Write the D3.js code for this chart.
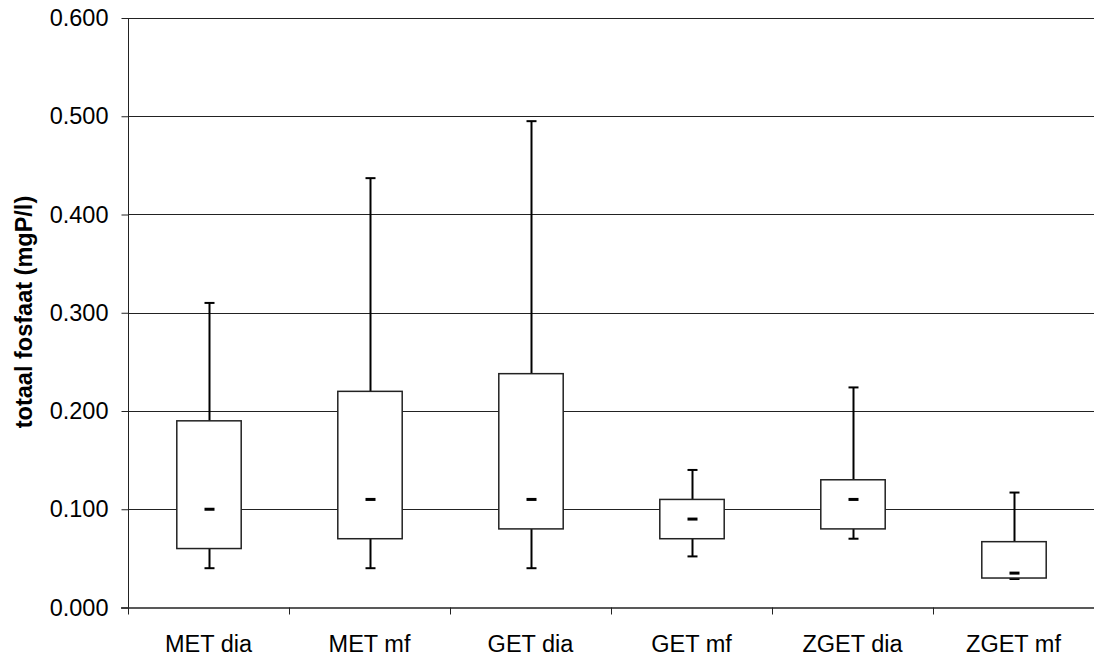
<!DOCTYPE html>
<html>
<head>
<meta charset="utf-8">
<script src="https://cdn.jsdelivr.net/npm/d3@7/dist/d3.min.js"></script>
<style>
  body { margin: 0; background: #fff; }
  text { font-family: "Liberation Sans", Arial, sans-serif; }
</style>
</head>
<body>
<svg id="chart" width="1094" height="659"></svg>
<script>
// categories and box values
var categories = ["MET dia", "MET mf", "GET dia", "GET mf", "ZGET dia", "ZGET mf"];
var whiskerMax = [0.310, 0.437, 0.495, 0.140, 0.224, 0.117];
var boxTop     = [0.190, 0.220, 0.238, 0.110, 0.130, 0.067];
var median     = [0.100, 0.110, 0.110, 0.090, 0.110, 0.035];
var boxBottom  = [0.060, 0.070, 0.080, 0.070, 0.080, 0.030];
var whiskerMin = [0.040, 0.040, 0.040, 0.052, 0.070, 0.029];
var yTicks = [0, 0.1, 0.2, 0.3, 0.4, 0.5, 0.6];
var yTitle = "totaal fosfaat (mgP/l)";

var svg = d3.select("#chart");
var plotLeft = 128, plotRight = 1094, plotTop = 18, plotBottom = 607.5;
var fontSize = 23.5;

var x = d3.scaleBand().domain(categories).range([plotLeft, plotRight]).paddingInner(0).paddingOuter(0);
var y = d3.scaleLinear().domain([0, 0.6]).range([plotBottom, plotTop]);

// gridlines
svg.append("g").selectAll("line").data(yTicks.slice(1)).enter().append("line")
  .attr("x1", plotLeft).attr("x2", plotRight)
  .attr("y1", function(d) { return Math.round(y(d)) + 0.5; })
  .attr("y2", function(d) { return Math.round(y(d)) + 0.5; })
  .attr("stroke", "#222").attr("stroke-width", 1);

// y axis
var yAxis = svg.append("g").attr("transform", "translate(" + (plotLeft + 0.5) + ",0)")
  .call(d3.axisLeft(y).tickValues(yTicks).tickFormat(d3.format(".3f")).tickSize(7).tickPadding(13));
yAxis.select(".domain").attr("stroke", "#222").attr("d", "M0," + plotTop + "V" + plotBottom);
yAxis.selectAll(".tick line").attr("stroke", "#222");
yAxis.selectAll("text").attr("font-size", fontSize).attr("fill", "#000")
  .style("font-family", "'Liberation Sans', Arial, sans-serif");

// x axis
var xAxis = svg.append("g").attr("transform", "translate(0," + (plotBottom + 0.5) + ")")
  .call(d3.axisBottom(x).tickSize(0).tickPadding(27));
xAxis.select(".domain").attr("stroke", "#222").attr("stroke-width", 1.5).attr("d", "M" + (plotLeft - 7) + ",0H" + plotRight);
xAxis.selectAll("text").attr("font-size", fontSize).attr("fill", "#000")
  .style("font-family", "'Liberation Sans', Arial, sans-serif");
// category separators
svg.append("g").selectAll("line").data(categories).enter().append("line")
  .attr("x1", function(d) { return Math.round(x(d)) + 0.5; })
  .attr("x2", function(d) { return Math.round(x(d)) + 0.5; })
  .attr("y1", plotBottom).attr("y2", plotBottom + 7)
  .attr("stroke", "#222");

// y title
svg.append("text")
  .attr("transform", "translate(32,312) rotate(-90)")
  .attr("text-anchor", "middle")
  .attr("font-size", fontSize).attr("font-weight", "bold")
  .text(yTitle);

// boxes
var boxW = x.bandwidth() * 0.4;
var g = svg.append("g").selectAll("g").data(categories).enter().append("g")
  .attr("transform", function(d) { return "translate(" + Math.round(x(d) + x.bandwidth() / 2) + ",0)"; });

// whiskers
g.append("line")
  .attr("x1", 0.5).attr("x2", 0.5)
  .attr("y1", function(d, i) { return y(whiskerMax[i]); })
  .attr("y2", function(d, i) { return y(boxTop[i]); })
  .attr("stroke", "#000").attr("stroke-width", 2);
g.append("line")
  .attr("x1", 0.5).attr("x2", 0.5)
  .attr("y1", function(d, i) { return y(boxBottom[i]); })
  .attr("y2", function(d, i) { return y(whiskerMin[i]); })
  .attr("stroke", "#000").attr("stroke-width", 2);
g.append("line")
  .attr("x1", -4.5).attr("x2", 5.5)
  .attr("y1", function(d, i) { return y(whiskerMax[i]); })
  .attr("y2", function(d, i) { return y(whiskerMax[i]); })
  .attr("stroke", "#000").attr("stroke-width", 2);
g.append("line")
  .attr("x1", -4.5).attr("x2", 5.5)
  .attr("y1", function(d, i) { return y(whiskerMin[i]); })
  .attr("y2", function(d, i) { return y(whiskerMin[i]); })
  .attr("stroke", "#000").attr("stroke-width", 2);

g.append("rect")
  .attr("x", -boxW / 2)
  .attr("width", boxW)
  .attr("y", function(d, i) { return y(boxTop[i]); })
  .attr("height", function(d, i) { return y(boxBottom[i]) - y(boxTop[i]); })
  .attr("fill", "#fff").attr("stroke", "#222").attr("stroke-width", 1.5);

// median dash
g.append("rect")
  .attr("x", -4.5).attr("width", 10)
  .attr("y", function(d, i) { return y(median[i]) - 1.5; })
  .attr("height", 3)
  .attr("fill", "#000");
</script>
</body>
</html>
